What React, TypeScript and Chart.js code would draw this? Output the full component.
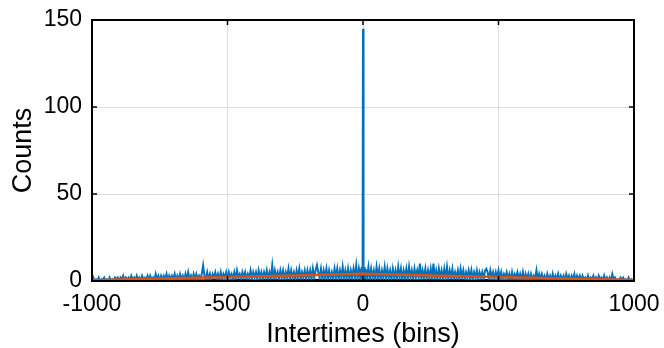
import React, { useEffect, useRef } from "react";
import { Chart, registerables } from "chart.js";

Chart.register(...registerables);

// ---------- DATA ----------
const xTickValues = [-1000, -500, 0, 500, 1000];
const yTickValues = [0, 50, 100, 150];

// Blue counts, bins -1000..-15 every 5 bins
const blueLeftStart = -1000;
const blueStep = 5;
const blueLeft = [
  0, 2, 0, 1, 0, 2, 0, 1, 1, 2, 0, 1, 0, 2, 0, 1, 0, 2, 1, 2,
  0, 2, 1, 3, 0, 2, 1, 2, 0, 3, 1, 2, 0, 3, 1, 2, 0, 3, 1, 2,
  1, 3, 0, 3, 1, 2, 0, 4, 1, 3, 0, 3, 1, 3, 1, 4, 0, 3, 1, 3,
  1, 4, 0, 3, 1, 4, 1, 3, 0, 4, 1, 5, 1, 3, 0, 4, 1, 4, 1, 3,
  1, 4, 9, 3, 1, 5, 1, 4, 0, 4, 2, 5, 1, 4, 1, 5, 1, 4, 2, 5,
  1, 5, 2, 4, 1, 5, 1, 6, 2, 4, 1, 5, 2, 5, 1, 4, 2, 6, 1, 5,
  2, 5, 1, 6, 2, 5, 1, 5, 2, 6, 1, 5, 2, 9, 1, 6, 2, 5, 1, 6,
  2, 6, 1, 5, 2, 7, 1, 6, 2, 5, 1, 6, 2, 7, 1, 5, 2, 6, 1, 6,
  2, 6, 1, 7, 2, 6, 9, 5, 2, 7, 1, 6, 2, 7, 1, 6, 2, 5, 1, 7,
  2, 7, 1, 6, 2, 8, 1, 6, 2, 7, 1, 6, 2, 7, 2, 9, 1, 7,
];
// Blue counts, bins -10..10 every bin (the central peak)
const blueCenterStart = -10;
const blueCenter = [2, 7, 1, 6, 2, 8, 1, 6, 2, 5, 145, 120, 5, 1, 7, 2, 8, 1, 6, 2, 7];
// Blue counts, bins 15..1000 every 5 bins
const blueRightStart = 15;
const blueRight = [
  2, 8, 1, 7, 2, 6, 1, 8, 2, 7, 1, 6, 2, 8, 1, 7, 2, 6,
  1, 7, 2, 6, 1, 8, 2, 7, 1, 6, 2, 7, 1, 8, 2, 6, 1, 7, 2, 6,
  2, 10, 1, 6, 2, 7, 1, 6, 2, 7, 1, 10, 2, 6, 1, 7, 2, 6, 1, 7,
  2, 8, 1, 6, 2, 7, 1, 5, 2, 6, 1, 7, 2, 6, 1, 5, 2, 6, 1, 6,
  1, 5, 2, 6, 1, 5, 2, 5, 1, 6, 7, 5, 1, 6, 2, 5, 1, 5, 2, 6,
  1, 5, 1, 4, 2, 5, 1, 4, 0, 5, 1, 4, 2, 5, 1, 4, 1, 5, 0, 4,
  1, 4, 0, 4, 1, 3, 1, 6, 0, 4, 1, 4, 1, 3, 0, 4, 1, 3, 0, 4,
  0, 3, 1, 4, 0, 3, 1, 3, 0, 4, 1, 3, 0, 3, 1, 4, 0, 3, 1, 3,
  0, 3, 1, 2, 0, 3, 0, 2, 1, 3, 0, 2, 0, 3, 1, 2, 0, 3, 0, 2,
  0, 2, 0, 4, 1, 2, 0, 1, 0, 2, 1, 2, 0, 1, 0, 2, 0, 1, 0, 1,
];

// Black baseline series, bins -1000..1000 every 50 bins
const blackStart = -1000;
const blackStep = 50;
const blackValues = [
  0.2, 0.4, 0.1, 0.5, 0.3, 0.6, 0.2, 0.5, 0.4, 0.7, 0.5,
  0.8, 0.5, 0.8, 0.6, 0.9, 0.7, 0.8, 0.7, 0.9, 0.8,
  0.9, 0.7, 0.9, 0.6, 0.8, 0.6, 0.8, 0.5, 0.7, 0.5,
  0.6, 0.4, 0.6, 0.3, 0.5, 0.2, 0.4, 0.2, 0.3, 0.2,
];

// Orange fit
const fitBins = [-1000, -750, -500, -250, 0, 250, 500, 750, 1000];
const fitValues = [0.5, 1.4, 2.3, 3.2, 4.1, 3.2, 2.3, 1.4, 0.6];

const xLabel = "Intertimes (bins)";
const yLabel = "Counts";

// ---------- STYLE ----------
const FONT = "'Liberation Sans', Arial, Helvetica, sans-serif";
const BLUE = "#0072BD";
const ORANGE = "#D95319";

function buildSeries(start: number, step: number, values: number[]) {
  return values.map((v, i) => ({ x: start + i * step, y: v }));
}

const frameAndTicks = {
  id: "frameAndTicks",
  afterDatasetsDraw(chart: any) {
    const { ctx, chartArea } = chart;
    const { left, right, top, bottom } = chartArea;
    const xs = chart.scales.x;
    const ys = chart.scales.y;
    const tl = 5;
    ctx.save();
    ctx.strokeStyle = "#000";
    ctx.lineWidth = 1.5;
    ctx.beginPath();
    for (const t of xs.ticks) {
      const px = xs.getPixelForValue(t.value);
      ctx.moveTo(px, bottom);
      ctx.lineTo(px, bottom - tl);
      ctx.moveTo(px, top);
      ctx.lineTo(px, top + tl);
    }
    for (const t of ys.ticks) {
      const py = ys.getPixelForValue(t.value);
      ctx.moveTo(left, py);
      ctx.lineTo(left + tl, py);
      ctx.moveTo(right, py);
      ctx.lineTo(right - tl, py);
    }
    ctx.stroke();
    ctx.lineWidth = 2;
    ctx.strokeRect(left, top, right - left, bottom - top);
    ctx.restore();
  },
};

export default function App() {
  const canvasRef = useRef<HTMLCanvasElement | null>(null);

  useEffect(() => {
    const canvas = canvasRef.current;
    if (!canvas) return;
    const blueData = [
      ...buildSeries(blueLeftStart, blueStep, blueLeft),
      ...buildSeries(blueCenterStart, 1, blueCenter),
      ...buildSeries(blueRightStart, blueStep, blueRight),
    ];
    const blackData = buildSeries(blackStart, blackStep, blackValues);
    const fitData = fitBins.map((b, i) => ({ x: b, y: fitValues[i] }));

    const chart = new Chart(canvas, {
      type: "line",
      data: {
        datasets: [
          {
            data: fitData,
            borderColor: ORANGE,
            borderWidth: 2.5,
            pointRadius: 0,
            tension: 0,
            order: 0,
          },
          {
            data: blueData,
            borderColor: BLUE,
            borderWidth: 2,
            pointRadius: 0,
            tension: 0,
            order: 1,
          },
          {
            data: blackData,
            borderColor: "#000",
            borderWidth: 1.5,
            pointRadius: 0,
            tension: 0,
            order: 2,
          },
        ],
      },
      options: {
        responsive: false,
        animation: false,
        devicePixelRatio: 1,
        layout: { padding: { top: 20, right: 30, left: 0, bottom: 0 } },
        plugins: { legend: { display: false }, tooltip: { enabled: false } },
        scales: {
          x: {
            type: "linear",
            min: -1000,
            max: 1000,
            afterBuildTicks: (s: any) => {
              s.ticks = xTickValues.map((v) => ({ value: v }));
            },
            afterFit: (s: any) => {
              s.height = 67;
              s.paddingLeft = 0;
              s.paddingRight = 0;
            },
            ticks: {
              color: "#000",
              font: { family: FONT, size: 23, lineHeight: 1 },
              padding: 12,
              maxRotation: 0,
              autoSkip: false,
              callback: (v: any) => String(v),
            },
            grid: { color: "#dcdcdc", lineWidth: 1, drawTicks: false },
            border: { display: false },
            title: {
              display: true,
              text: xLabel,
              color: "#000",
              font: { family: FONT, size: 27, lineHeight: 1 },
              padding: { top: 0, bottom: 0 },
            },
          },
          y: {
            type: "linear",
            min: 0,
            max: 150,
            afterBuildTicks: (s: any) => {
              s.ticks = yTickValues.map((v) => ({ value: v }));
            },
            afterFit: (s: any) => {
              s.width = 92;
              s.paddingTop = 0;
              s.paddingBottom = 0;
            },
            ticks: {
              color: "#000",
              font: { family: FONT, size: 23, lineHeight: 1 },
              padding: 10,
              autoSkip: false,
              callback: (v: any) => String(v),
            },
            grid: { color: "#dcdcdc", lineWidth: 1, drawTicks: false },
            border: { display: false },
            title: {
              display: true,
              text: yLabel,
              color: "#000",
              font: { family: FONT, size: 27, lineHeight: 1 },
              padding: { top: 10, bottom: 0 },
            },
          },
        },
      },
      plugins: [frameAndTicks],
    });
    return () => chart.destroy();
  }, []);

  return (
    <div style={{ position: "fixed", left: 0, top: 0, width: 664, height: 348, background: "#fff" }}>
      <canvas ref={canvasRef} width={664} height={348} style={{ display: "block" }} />
    </div>
  );
}
